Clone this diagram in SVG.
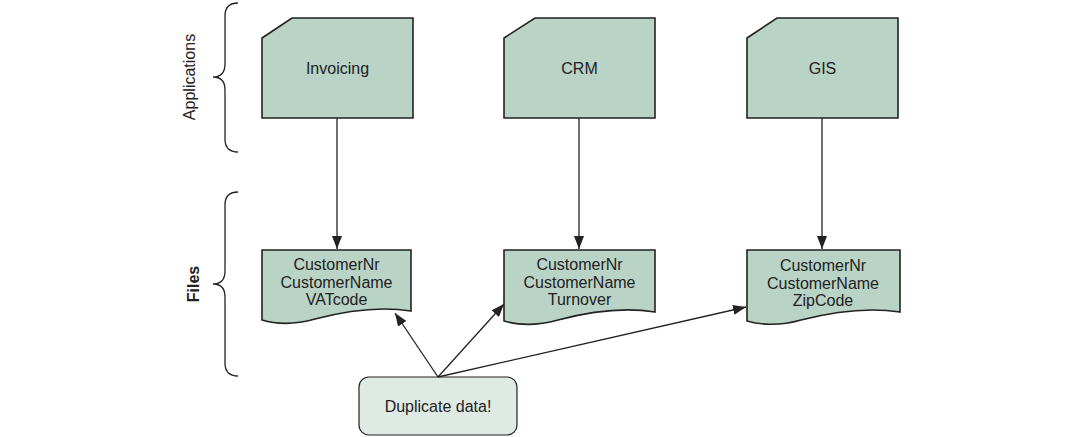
<svg xmlns="http://www.w3.org/2000/svg" width="1081" height="437" viewBox="0 0 1081 437">
<style>
.node{fill:#b9d3c6;stroke:#222;stroke-width:1.6}
.note{fill:#e0eae4;stroke:#222;stroke-width:1.2}
.t{font-family:"Liberation Sans",Arial,sans-serif;font-size:16px;fill:#222;text-anchor:middle}
.b{font-weight:bold}
.brace{fill:none;stroke:#222;stroke-width:1.3}
.c{fill:none;stroke:#222;stroke-width:1.3;marker-end:url(#ah)}
</style>
<defs>
<marker id="ah" markerUnits="userSpaceOnUse" markerWidth="14" markerHeight="10" refX="13" refY="5" orient="auto">
<path d="M0,0 L13,5 L0,10 Z" fill="#222"/>
</marker>
</defs>
<rect width="1081" height="437" fill="#fff"/>
<g id="labels">
<path class="brace" d="M238,3 Q225,3 225,16 V64 Q225,77 213,77 Q225,77 225,90 V139 Q225,152 238,152"/>
<text class="t" transform="translate(195,77) rotate(-90)">Applications</text>
<path class="brace" d="M238,192 Q225,192 225,205 V271 Q225,284 213,284 Q225,284 225,297 V363 Q225,376 238,376"/>
<text class="t b" transform="translate(199,284) rotate(-90)">Files</text>
</g>
<g id="app-invoicing">
<path class="node" d="M262,38 L292,18 H413 V118 H262 Z"/>
<text class="t" x="337.5" y="74">Invoicing</text>
</g>
<g id="app-crm">
<path class="node" d="M504,38 L535,18 H655 V118 H504 Z"/>
<text class="t" x="579.5" y="74">CRM</text>
</g>
<g id="app-gis">
<path class="node" d="M747,38 L777,18 H898 V118 H747 Z"/>
<text class="t" x="822.5" y="74">GIS</text>
</g>
<g id="file-invoicing">
<path class="node" d="M262,250 H411 V311 C380,306 345,311 315,319 C290,326 272,323 262,320 Z"/>
<text class="t" x="336.5" y="270">CustomerNr</text>
<text class="t" x="336.5" y="287.5">CustomerName</text>
<text class="t" x="336.5" y="305">VATcode</text>
</g>
<g id="file-crm">
<path class="node" d="M504,250 H655 V312 C624,307 588,312 558,320 C533,327 514,324 504,321 Z"/>
<text class="t" x="579.5" y="270">CustomerNr</text>
<text class="t" x="579.5" y="287.5">CustomerName</text>
<text class="t" x="579.5" y="305">Turnover</text>
</g>
<g id="file-gis">
<path class="node" d="M747,250 H900 V312 C868,307 832,312 801,320 C777,327 757,324 747,321 Z"/>
<text class="t" x="823" y="271">CustomerNr</text>
<text class="t" x="823" y="288.5">CustomerName</text>
<text class="t" x="823" y="306">ZipCode</text>
</g>
<g id="note-duplicate">
<rect class="note" x="359" y="377" width="158" height="58" rx="10"/>
<text class="t" x="438" y="412">Duplicate data!</text>
</g>
<g id="connectors">
<path class="c" d="M337,118 V249"/>
<path class="c" d="M579,118 V249"/>
<path class="c" d="M822,118 V249"/>
<path class="c" d="M438,377 L395,313"/>
<path class="c" d="M438,377 L504,304"/>
<path class="c" d="M438,377 L746,307"/>
</g>
</svg>
